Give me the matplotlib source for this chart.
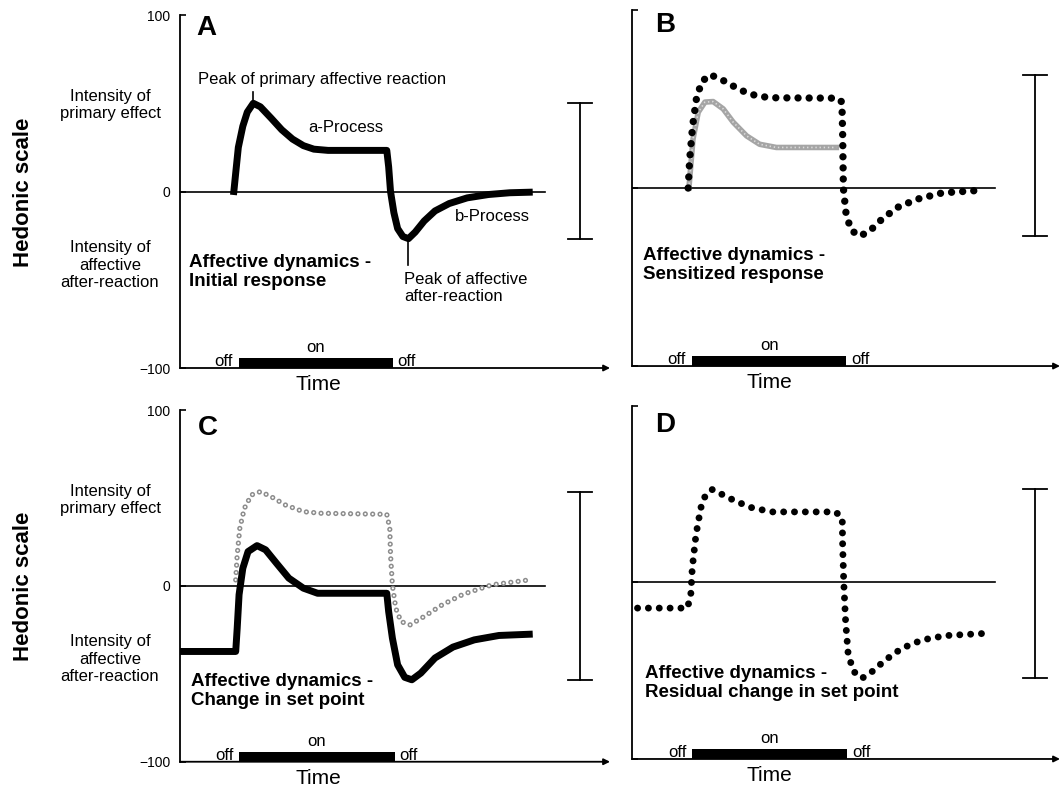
import matplotlib.pyplot as plt

plt.rcParams['font.family'] = ['Liberation Sans', 'DejaVu Sans']
plt.rcParams['lines.scale_dashes'] = False

# time in arbitrary units, hedonic value on a -100..100 scale
a_time = [14.4, 14.9, 15.6, 16.8, 18.0, 19.6, 21.5, 24.4, 27.2, 30.1, 33.0, 35.8, 39.6,
          55.3, 55.8, 56.3, 57.2, 58.2, 59.6, 61.1, 62.9, 65.3, 68.2, 72.0, 76.8, 82.5, 88.2, 93.4]
a_value = [0, 10.5, 25, 37, 45, 50, 48, 41.5, 35, 29.7, 26, 24, 23.3,
           23.3, 14, 0, -12, -21, -25.5, -26.7, -23, -16.7, -11, -6.8, -3.6, -1.7, -0.7, -0.4]

b_time = [15.1, 15.5, 16.3, 17.3, 18.7, 20.9, 23.6, 27.2, 30.8, 34.3, 38.8, 55.3,
          56.4, 56.6, 56.8, 57.5, 58.8, 61.1, 63.7, 67.4, 71.8, 77.1, 83.4, 94.2]
b_value = [0, 16, 35, 50, 59.6, 63.7, 61.5, 57.3, 53.5, 51.4, 50.7, 50.5,
           48.3, 31, 0, -14, -23.5, -27, -24.5, -17, -10.3, -6, -2.7, -1.2]
b_initial_time = [15.3, 16.4, 17.8, 19.6, 21.8, 24.5, 27.2, 30.8, 34.3, 38.8, 54.9]
b_initial_value = [0, 27.5, 42.6, 48.3, 48.6, 44.5, 37, 29.3, 24.6, 22.8, 22.8]

c_time = [0.1, 14.9, 15.3, 15.8, 16.8, 18.2, 20.6, 22.9, 25.8, 29.1, 33.0, 36.8,
          55.3, 55.8, 56.8, 58.2, 60.1, 62.0, 64.4, 68.2, 73.0, 78.7, 85.3, 93.4]
c_value = [-37.3, -37.3, -24, -5, 10, 19.5, 22.9, 20.5, 12.9, 4.4, -1.3, -4.2,
           -4.2, -14.6, -29.7, -44.9, -52, -53.4, -49.6, -41, -34.8, -30.7, -28.2, -27.5]
c_sensitized_time = [14.9, 15.3, 16.0, 17.2, 19.1, 21.5, 24.4, 28.2, 33.0, 37.7, 55.3,
                     56.1, 56.3, 56.8, 57.7, 59.1, 61.5, 65.3, 70.1, 75.8, 83.4, 93.4]
c_sensitized_value = [3.4, 17.6, 32.8, 44, 51.7, 53.6, 50.7, 46, 42.2, 41.3, 40.7,
                      32.8, 17.6, 0.6, -12.7, -20.3, -22.2, -17.4, -10.8, -4.7, 0.6, 3.4]

d_time = [1.5, 14.9, 15.8, 16.2, 17.2, 18.5, 19.8, 21.6, 24.3, 27.9, 32.3, 37.7, 54.7,
          56.5, 56.6, 56.9, 57.4, 58.1, 59.6, 61.8, 64.5, 68.1, 72.5, 77.9, 84.2, 95.3]
d_value = [-14.5, -14.5, -7, 8.2, 27.1, 42.3, 49.8, 52.7, 49.8, 46, 42.3, 40, 40,
           36.6, 21.4, 0, -22, -41, -50.5, -54.3, -50.5, -43.9, -37.3, -32.6, -30.1, -28.8]

# stimulus on / off times per panel
stim_a = (15.7, 56.9)
stim_b = (16.1, 57.6)
stim_c = (15.9, 57.4)
stim_d = (16.2, 57.9)

y_ticks = [-100, 0, 100]
y_tick_labels = ['\u2212100', '0', '100']
zero_line_end = 97.5

fig = plt.figure(figsize=(10.6, 7.87), dpi=100)


def setup_axes(rect, show_labels):
    ax = fig.add_axes(rect)
    ax.set_xlim(0, 115)
    ax.set_ylim(-100, 100)
    for side in ['top', 'right', 'bottom']:
        ax.spines[side].set_visible(False)
    ax.spines['left'].set_linewidth(1.3)
    ax.set_xticks([])
    ax.set_yticks(y_ticks)
    if show_labels:
        ax.set_yticklabels(y_tick_labels)
    else:
        ax.set_yticklabels([])
    ax.tick_params(axis='y', direction='in', length=4, width=1.2, labelsize=10, pad=7)
    ax.patch.set_alpha(0)
    ax.annotate('', xy=(1, 0), xytext=(0, 0), xycoords='axes fraction',
                arrowprops=dict(arrowstyle='-|>', lw=1.3, color='black', mutation_scale=9,
                                shrinkA=0, shrinkB=0),
                annotation_clip=False)
    ax.plot([0, zero_line_end], [0, 0], color='black', lw=1.2)
    return ax


def draw_stimulus(ax, stim):
    on, off = stim
    ax.broken_barh([(on, off - on)], (-100, 5.6), facecolors='black')
    ax.text(on - 1.6, -98.9, 'off', ha='right', va='baseline', fontsize=12)
    ax.text(off + 1.3, -98.9, 'off', ha='left', va='baseline', fontsize=12)
    ax.text((on + off) / 2, -91, 'on', ha='center', va='baseline', fontsize=12)
    ax.text(37, -112.5, 'Time', ha='center', va='baseline', fontsize=15, clip_on=False)


def draw_scale_bar(ax, x, top, bottom):
    ax.plot([x, x], [bottom, top], color='black', lw=1.3, clip_on=False)
    ax.plot([x - 3.3, x + 3.3], [top, top], color='black', lw=1.3, clip_on=False)
    ax.plot([x - 3.3, x + 3.3], [bottom, bottom], color='black', lw=1.3, clip_on=False)


def draw_side_labels(ax):
    ax.text(-18.7, 49, 'Intensity of\nprimary effect', ha='center', va='center',
            multialignment='center', fontsize=12, linespacing=1.2)
    ax.text(-18.7, -41.7, 'Intensity of\naffective\nafter-reaction', ha='center', va='center',
            multialignment='center', fontsize=12, linespacing=1.2)


def dotted(ax, t, v, color, lw, gap):
    ax.plot(t, v, color=color, lw=lw, linestyle=(0, (0.01, gap)),
            dash_capstyle='round', solid_capstyle='round')


# Panel A
ax_a = setup_axes([0.1698, 0.5324, 0.4057, 0.4485], True)
ax_a.plot(a_time, a_value, color='black', lw=5, solid_joinstyle='round')
peak_i = a_value.index(max(a_value))
trough_i = a_value.index(min(a_value))
ax_a.plot([a_time[peak_i]] * 2, [a_value[peak_i], a_value[peak_i] + 6.5], color='black', lw=1.2)
ax_a.plot([a_time[trough_i]] * 2, [a_value[trough_i], a_value[trough_i] - 15], color='black', lw=1.2)
ax_a.text(4.3, 92.6, 'A', fontsize=20, fontweight='bold', va='center')
ax_a.text(4.8, 63.2, 'Peak of primary affective reaction', fontsize=12, va='center')
ax_a.text(34.2, 36, 'a-Process', fontsize=12, va='center')
ax_a.text(73.5, -14.4, 'b-Process', fontsize=12, va='center')
ax_a.text(59.9, -54.7, 'Peak of affective\nafter-reaction', fontsize=12, va='center', linespacing=1.2)
ax_a.text(2.4, -45.6, 'Affective dynamics -\nInitial response', fontsize=13.5,
          fontweight='bold', va='center', linespacing=1.15)
draw_side_labels(ax_a)
draw_stimulus(ax_a, stim_a)
draw_scale_bar(ax_a, 107, max(a_value), min(a_value))

# Panel B
ax_b = setup_axes([0.5962, 0.5349, 0.4038, 0.4523], False)
ax_b.plot(b_initial_time, b_initial_value, color='#a5a5a5', lw=4)
ax_b.plot(b_initial_time, b_initial_value, color='#dcdcdc', lw=1.2, linestyle=(0, (1, 2)))
dotted(ax_b, b_time, b_value, 'black', 5.3, 8)
ax_b.text(6.2, 91.5, 'B', fontsize=20, fontweight='bold', va='center')
ax_b.text(2.9, -43.3, 'Affective dynamics -\nSensitized response', fontsize=13.5,
          fontweight='bold', va='center', linespacing=1.15)
draw_stimulus(ax_b, stim_b)
draw_scale_bar(ax_b, 108.3, max(b_value), min(b_value))

# Panel C
ax_c = setup_axes([0.1698, 0.0321, 0.4057, 0.4469], True)
dotted(ax_c, c_sensitized_time, c_sensitized_value, '#8c8c8c', 3.8, 5.3)
dotted(ax_c, c_sensitized_time, c_sensitized_value, 'white', 1.6, 5.3)
ax_c.plot(c_time, c_value, color='black', lw=5, solid_joinstyle='round')
ax_c.text(4.8, 90, 'C', fontsize=20, fontweight='bold', va='center')
ax_c.text(2.9, -59.7, 'Affective dynamics -\nChange in set point', fontsize=13.5,
          fontweight='bold', va='center', linespacing=1.15)
draw_side_labels(ax_c)
draw_stimulus(ax_c, stim_c)
draw_scale_bar(ax_c, 107, max(c_sensitized_value), min(c_value))

# Panel D
ax_d = setup_axes([0.5962, 0.0356, 0.4038, 0.4485], False)
dotted(ax_d, d_time, d_value, 'black', 5, 7.8)
ax_d.text(6.2, 89, 'D', fontsize=20, fontweight='bold', va='center')
ax_d.text(3.6, -57.2, 'Affective dynamics -\nResidual change in set point', fontsize=13.5,
          fontweight='bold', va='center', linespacing=1.15)
draw_stimulus(ax_d, stim_d)
draw_scale_bar(ax_d, 108.3, max(d_value), min(d_value))

fig.text(24 / 1060, 1 - 192 / 787, 'Hedonic scale', rotation=90, fontsize=16,
         fontweight='bold', ha='center', va='center')
fig.text(24 / 1060, 1 - 586 / 787, 'Hedonic scale', rotation=90, fontsize=16,
         fontweight='bold', ha='center', va='center')

fig.savefig('out.png', dpi=100)
